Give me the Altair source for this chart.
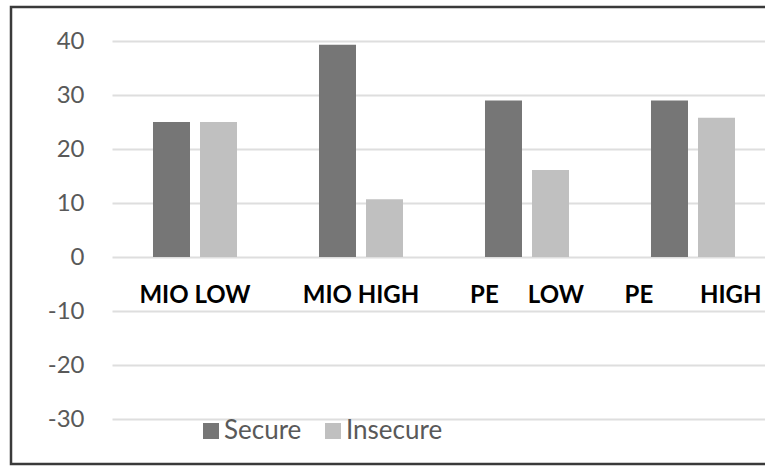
import altair as alt
import pandas as pd

# Group labels and the two attachment series
categories = ["MIO LOW", "MIO HIGH", "PE LOW", "PE HIGH"]
NB = "\u00a0"
category_labels = ["MIO LOW", "MIO HIGH", "PE" + NB * 5 + "LOW", "PE" + NB * 8 + "HIGH"]
series = ["Secure", "Insecure"]
secure = [25.0, 39.3, 29.0, 29.0]
insecure = [25.0, 10.7, 16.1, 25.8]
series_colors = ["#767676", "#c0c0c0"]

rows = []
for cat, s, i in zip(categories, secure, insecure):
    rows.append({"group": cat, "series": "Secure", "value": s})
    rows.append({"group": cat, "series": "Insecure", "value": i})
bars_df = pd.DataFrame(rows)
labels_df = pd.DataFrame({"group": categories, "label": category_labels})

FONT = "Lato"
GREY = "#595959"

x_scale = alt.Scale(domain=categories, range=[0, 664], paddingInner=0, paddingOuter=0)
y_scale = alt.Scale(domain=[-30, 40], nice=False)

bars = alt.Chart(bars_df).mark_bar().encode(
    x=alt.X("group:N", scale=x_scale, axis=None, sort=categories),
    xOffset=alt.XOffset("series:N", sort=series,
                        scale=alt.Scale(domain=series, paddingInner=0.2128, paddingOuter=0.872)),
    y=alt.Y("value:Q", scale=y_scale,
            axis=alt.Axis(values=[-30, -20, -10, 0, 10, 20, 30, 40], title=None,
                          labelExpr="toString(datum.value)",
                          grid=True, gridColor="#dedede", gridWidth=2,
                          domain=False, ticks=False, labelPadding=28,
                          labelFont=FONT, labelFontSize=24, labelColor=GREY)),
    y2=alt.datum(0),
    color=alt.Color("series:N", sort=series,
                    scale=alt.Scale(domain=series, range=series_colors),
                    legend=alt.Legend(title=None, orient="none", direction="horizontal",
                                      legendX=86, legendY=377,
                                      symbolType="square", symbolSize=256,
                                      symbolStrokeWidth=0, symbolOpacity=1,
                                      labelFont=FONT, labelFontSize=26, labelColor=GREY,
                                      labelOffset=0, columnPadding=18)),
)

labels = alt.Chart(labels_df).mark_text(
    font=FONT, fontSize=24, fontWeight="bold", color="#000000",
    align="center", baseline="middle", dy=39,
).encode(
    x=alt.X("group:N", scale=x_scale, axis=None, sort=categories),
    y=alt.datum(0),
    text="label:N",
)

frame = alt.Chart(pd.DataFrame({"f": [0]})).mark_rect(
    fill=None, stroke="#3a3a3a", strokeWidth=2.5, clip=False
).encode(
    x=alt.value(-101), x2=alt.value(760),
    y=alt.value(-34), y2=alt.value(423),
)

chart = alt.layer(frame, bars, labels).properties(
    width=653, height=378,
    autosize=alt.AutoSizeParams(type="none"),
    padding={"left": 112, "top": 41, "right": 0, "bottom": 47},
    background="white",
).configure_view(stroke=None)

chart.save("out.html", embed_options={"renderer": "svg", "actions": False})
